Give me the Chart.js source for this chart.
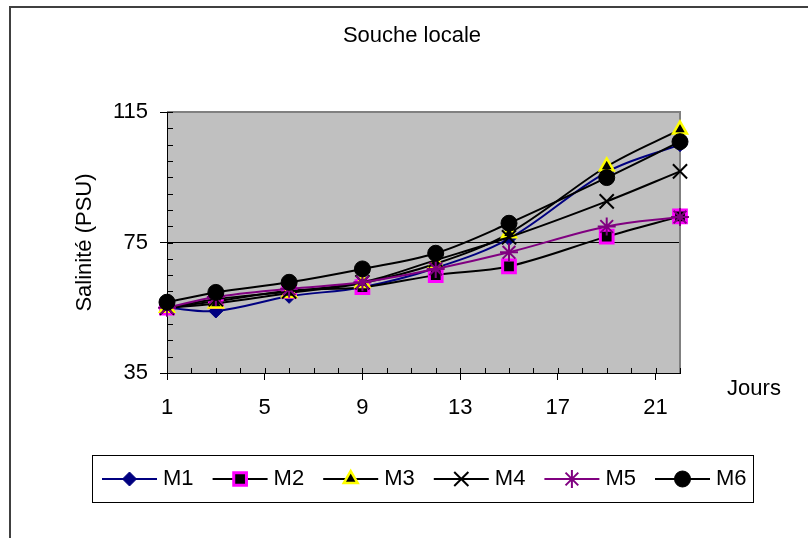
<!DOCTYPE html>
<html>
<head>
<meta charset="utf-8">
<script src="https://cdn.jsdelivr.net/npm/chart.js@4"></script>
<style>
  html, body { margin: 0; padding: 0; background: #fff; }
</style>
</head>
<body>
<canvas id="myChart" width="808" height="538"></canvas>
<script>
// days of measurement
const days = [1, 3, 6, 9, 12, 15, 19, 22];

// salinity (PSU) per medium
const m1 = [55, 54, 58.5, 61.3, 67.2, 76.2, 96.6, 105];
const m2 = [55, 57, 60.2, 61.3, 65, 67.7, 76.8, 83];
const m3 = [55, 56.3, 59.5, 62.6, 68.5, 77.8, 98.3, 109.6];
const m4 = [55, 57.6, 60, 62.8, 69.6, 76.6, 87.6, 96.8];
const m5 = [55, 58.3, 60.8, 62.8, 66.9, 72, 79.9, 82.8];
const m6 = [56.7, 59.7, 62.8, 66.9, 71.7, 80.9, 94.9, 105.9];

const seriesNames = ['M1', 'M2', 'M3', 'M4', 'M5', 'M6'];
const xTickLabels = [1, 5, 9, 13, 17, 21];
const yTickLabels = [35, 75, 115];

const FONT = "'Liberation Sans', Arial, sans-serif";
Chart.defaults.font.family = FONT;
Chart.defaults.font.size = 22;
Chart.defaults.color = '#000';

const pts = (vals) => days.map((d, i) => ({x: d, y: vals[i]}));

const styles = [
  {line: '#000080', style: 'rectRot', r: 7, bw: 1, bg: '#000080', bc: '#000080'},
  {line: '#000000', style: 'rect', r: 9, bw: 3, bg: '#000000', bc: '#ff00ff'},
  {line: '#000000', style: 'triangle', r: 8, bw: 2.5, bg: '#000000', bc: '#ffff00'},
  {line: '#000000', style: 'crossRot', r: 10, bw: 2, bg: '#000000', bc: '#000000'},
  {line: '#800080', style: 'star', r: 9, bw: 2, bg: '#800080', bc: '#800080'},
  {line: '#000000', style: 'circle', r: 8, bw: 1, bg: '#000000', bc: '#000000'}
];

const allValues = [m1, m2, m3, m4, m5, m6];

const datasets = allValues.map((vals, i) => ({
  label: seriesNames[i],
  data: pts(vals),
  borderColor: styles[i].line,
  borderWidth: 2,
  tension: 0.35,
  pointStyle: styles[i].style,
  pointRadius: styles[i].r,
  pointBorderWidth: styles[i].bw,
  pointBackgroundColor: styles[i].bg,
  pointBorderColor: styles[i].bc,
  clip: false,
  order: 5 - i
}));

const decor = {
  id: 'decor',
  beforeDraw(chart) {
    const {ctx, chartArea: a} = chart;
    ctx.save();
    ctx.fillStyle = '#fff';
    ctx.fillRect(0, 0, chart.width, chart.height);
    ctx.fillStyle = '#c0c0c0';
    ctx.fillRect(a.left, a.top, a.right - a.left, a.bottom - a.top);
    // outer frame (left + top)
    ctx.strokeStyle = '#404040';
    ctx.lineWidth = 2;
    ctx.beginPath();
    ctx.moveTo(10, chart.height);
    ctx.lineTo(10, 7);
    ctx.lineTo(chart.width, 7);
    ctx.stroke();
    ctx.restore();
  },
  beforeDatasetsDraw(chart) {
    const {ctx, chartArea: a, scales} = chart;
    ctx.save();
    // grey top/right border of the plot area
    ctx.strokeStyle = '#808080';
    ctx.lineWidth = 2;
    ctx.beginPath();
    ctx.moveTo(a.left, a.top);
    ctx.lineTo(a.right, a.top);
    ctx.lineTo(a.right, a.bottom);
    ctx.stroke();
    // inner tick marks
    ctx.strokeStyle = '#000';
    ctx.lineWidth = 1;
    ctx.beginPath();
    scales.x.ticks.forEach(t => {
      const px = Math.round(scales.x.getPixelForValue(t.value)) + 0.5;
      ctx.moveTo(px, a.bottom);
      ctx.lineTo(px, a.bottom - 5);
    });
    scales.y.ticks.forEach(t => {
      const py = Math.round(scales.y.getPixelForValue(t.value)) + 0.5;
      ctx.moveTo(a.left, py);
      ctx.lineTo(a.left + 6, py);
    });
    ctx.stroke();
    ctx.restore();
  },
  afterDraw(chart) {
    const {ctx} = chart;
    ctx.save();
    ctx.fillStyle = '#000';
    ctx.font = '22px ' + FONT;
    ctx.textAlign = 'center';
    ctx.textBaseline = 'middle';
    ctx.fillText('Souche locale', 412, 36);
    ctx.fillText('Jours', 754, 389);

    // legend
    ctx.strokeStyle = '#000';
    ctx.lineWidth = 1;
    ctx.strokeRect(92.5, 455.5, 661, 47);
    const cy = 479;
    chart.data.datasets.forEach((ds, i) => {
      const x0 = 102 + i * 110.6;
      ctx.strokeStyle = ds.borderColor;
      ctx.lineWidth = 2;
      ctx.beginPath();
      ctx.moveTo(x0, cy);
      ctx.lineTo(x0 + 55, cy);
      ctx.stroke();
      ctx.fillStyle = ds.pointBackgroundColor;
      ctx.strokeStyle = ds.pointBorderColor;
      ctx.lineWidth = ds.pointBorderWidth;
      Chart.helpers.drawPoint(ctx, {
        pointStyle: ds.pointStyle,
        radius: ds.pointRadius,
        borderWidth: ds.pointBorderWidth,
        rotation: 0
      }, x0 + 27.5, cy);
      ctx.fillStyle = '#000';
      ctx.textAlign = 'left';
      ctx.fillText(ds.label, x0 + 61, cy);
    });
    ctx.restore();
  }
};

new Chart(document.getElementById('myChart'), {
  type: 'line',
  data: { datasets: datasets },
  options: {
    responsive: false,
    animation: false,
    layout: { padding: { left: 0, right: 128, top: 112, bottom: 0 } },
    plugins: {
      legend: { display: false },
      tooltip: { enabled: false },
      title: { display: false }
    },
    scales: {
      x: {
        type: 'linear',
        min: 1,
        max: 22,
        afterFit: (scale) => { scale.height = 165; },
        ticks: {
          stepSize: 1,
          autoSkip: false,
          maxRotation: 0,
          padding: 15,
          callback: (v) => xTickLabels.includes(v) ? v : ''
        },
        grid: {
          drawOnChartArea: false,
          tickLength: 7,
          tickColor: (c) => c.tick && xTickLabels.includes(c.tick.value) ? '#000' : 'rgba(0,0,0,0)'
        },
        border: { color: '#000', width: 1 }
      },
      y: {
        min: 35,
        max: 115,
        afterFit: (scale) => { scale.width = 167; },
        ticks: {
          stepSize: 5,
          autoSkip: false,
          padding: 12,
          callback: (v) => yTickLabels.includes(v) ? v : ''
        },
        grid: {
          color: (c) => c.tick && c.tick.value === 75 ? '#000' : 'rgba(0,0,0,0)',
          lineWidth: 1,
          tickLength: 7,
          tickColor: (c) => c.tick && yTickLabels.includes(c.tick.value) ? '#000' : 'rgba(0,0,0,0)'
        },
        border: { color: '#000', width: 1 },
        title: {
          display: true,
          text: 'Salinité (PSU)',
          padding: { top: 72, bottom: 0 }
        }
      }
    }
  },
  plugins: [decor]
});
</script>
</body>
</html>
